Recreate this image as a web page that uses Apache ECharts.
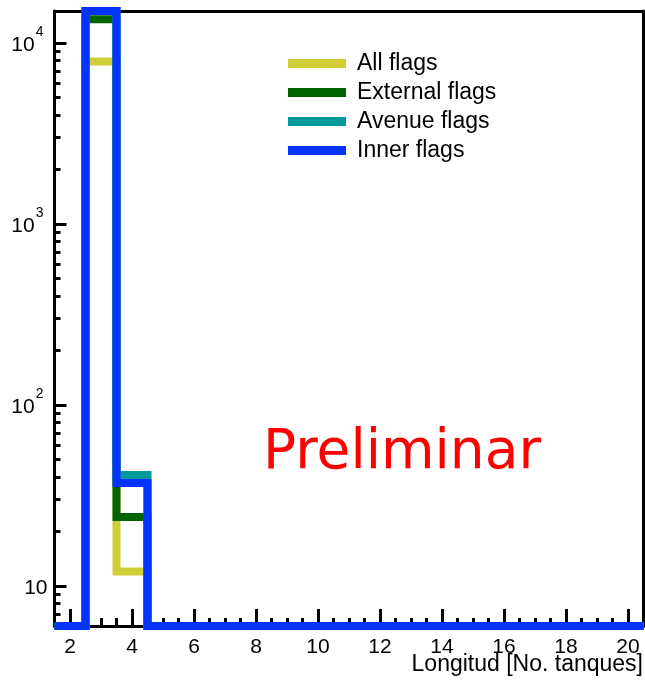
<!DOCTYPE html>
<html>
<head>
<meta charset="utf-8">
<script src="https://cdn.jsdelivr.net/npm/echarts@6/dist/echarts.min.js"></script>
<style>
html,body{margin:0;padding:0;background:#fff;}
#chart{width:645px;height:681px;}
</style>
</head>
<body>
<div id="chart"></div>
<script>
// ---- data ----
const BIN_CENTERS = [2,3,4,5,6,7,8,9,10,11,12,13,14,15,16,17,18,19,20];
const ALL_FLAGS      = [0, 7900, 12, 0,0,0,0,0,0,0,0,0,0,0,0,0,0,0,0];
const EXTERNAL_FLAGS = [0, 13500, 24, 0,0,0,0,0,0,0,0,0,0,0,0,0,0,0,0];
const AVENUE_FLAGS   = [0, 16000, 41, 0,0,0,0,0,0,0,0,0,0,0,0,0,0,0,0];
const INNER_FLAGS    = [0, 17000, 37, 0,0,0,0,0,0,0,0,0,0,0,0,0,0,0,0];
const SERIES_NAMES = ['All flags','External flags','Avenue flags','Inner flags'];
const X_TICKS = [2,4,6,8,10,12,14,16,18,20];
const Y_TICKS = [10,100,1000,10000];
const X_RANGE = [1.5, 20.5];
const Y_RANGE = [6, 15000];

const COLORS = ['#cfcd38','#006400','#009a9a','#0433ff'];
const FONT = '"Liberation Sans", Arial, Helvetica, sans-serif';

// histogram outline points (bin edges), values clamped to the frame
function histPoints(vals){
  const clamp = v => Math.min(Math.max(v, Y_RANGE[0]), Y_RANGE[1]);
  const pts = BIN_CENTERS.map((c,i)=>[c-0.5, clamp(vals[i] > 0 ? vals[i] : Y_RANGE[0])]);
  const last = BIN_CENTERS.length-1;
  pts.push([BIN_CENTERS[last]+0.5, clamp(vals[last] > 0 ? vals[last] : Y_RANGE[0])]);
  return pts;
}

const xMinor = [];
for (let v = X_RANGE[0]; v <= X_RANGE[1]+1e-9; v += 0.5) {
  if (X_TICKS.indexOf(v) < 0 && v > X_RANGE[0] && v < X_RANGE[1]) xMinor.push(v);
}
const yMinorLog = [];
for (let e = 0; e <= 4; e++) {
  for (let k = 2; k <= 9; k++) {
    const v = k*Math.pow(10,e);
    if (v > Y_RANGE[0] && v < Y_RANGE[1]) yMinorLog.push(Math.log10(v));
  }
}
const yMajorLog = Y_TICKS.map(v => Math.log10(v));
const lmin = Math.log10(Y_RANGE[0]), lmax = Math.log10(Y_RANGE[1]);

const chart = echarts.init(document.getElementById('chart'), null, {renderer:'canvas'});
const seriesData = [ALL_FLAGS, EXTERNAL_FLAGS, AVENUE_FLAGS, INNER_FLAGS];

const blackLine = {show:true, lineStyle:{color:'#000', width:3}};

chart.setOption({
  animation:false,
  backgroundColor:'#fff',
  textStyle:{fontFamily:FONT},
  grid:{left:54.5, right:1.5, top:11, bottom:55, containLabel:false, outerBoundsMode:'none'},
  legend:{
    orient:'vertical', left:288, top:45, padding:0, itemGap:-8,
    icon:'rect', itemWidth:58, itemHeight:9,
    textStyle:{fontSize:23, color:'#000', fontFamily:FONT, lineHeight:23, padding:[0,0,14,6]},
    data:SERIES_NAMES
  },
  xAxis:[
    {type:'value', min:X_RANGE[0], max:X_RANGE[1], position:'bottom',
     axisLine:blackLine, splitLine:{show:false},
     axisTick:{show:true, inside:true, length:17, customValues:X_TICKS, lineStyle:{color:'#000', width:3}},
     axisLabel:{show:true, customValues:X_TICKS, margin:11, fontSize:21, color:'#000', fontFamily:FONT}},
    {type:'value', min:X_RANGE[0], max:X_RANGE[1], position:'bottom',
     axisLine:{show:false}, splitLine:{show:false}, axisLabel:{show:false},
     axisTick:{show:true, inside:true, length:8, customValues:xMinor, lineStyle:{color:'#000', width:3}}},
    {type:'value', min:X_RANGE[0], max:X_RANGE[1], position:'top',
     axisLine:blackLine, splitLine:{show:false}, axisLabel:{show:false}, axisTick:{show:false}}
  ],
  yAxis:[
    {type:'log', logBase:10, min:Y_RANGE[0], max:Y_RANGE[1], position:'left',
     axisLine:blackLine, splitLine:{show:false}, axisLabel:{show:false}, axisTick:{show:false}, minorTick:{show:false}},
    {type:'value', min:lmin, max:lmax, position:'left',
     axisLine:{show:false}, splitLine:{show:false},
     axisTick:{show:true, inside:true, length:12, customValues:yMajorLog, lineStyle:{color:'#000', width:3}},
     axisLabel:{show:true, customValues:yMajorLog, margin:7, color:'#000', fontFamily:FONT,
       formatter:function(v){
         const e = Math.round(v);
         return e === 1 ? '{c|10}' : '{b|10}{s|' + e + '}';
       },
       rich:{
         b:{fontSize:21, lineHeight:21, fontFamily:FONT, color:'#000', padding:[4,0,0,0]},
         s:{fontSize:14, lineHeight:14, fontFamily:FONT, color:'#000', padding:[0,4,21,1]},
         c:{fontSize:21, lineHeight:21, fontFamily:FONT, color:'#000', padding:[4,0,0,0]}
       }}},
    {type:'value', min:lmin, max:lmax, position:'left',
     axisLine:{show:false}, splitLine:{show:false}, axisLabel:{show:false},
     axisTick:{show:true, inside:true, length:6, customValues:yMinorLog, lineStyle:{color:'#000', width:3}}},
    {type:'value', min:lmin, max:lmax, position:'right',
     axisLine:blackLine, splitLine:{show:false}, axisLabel:{show:false}, axisTick:{show:false}}
  ],
  series: SERIES_NAMES.map((name,i)=>({
    name:name, type:'line', step:'end', xAxisIndex:0, yAxisIndex:0,
    data:histPoints(seriesData[i]), showSymbol:false, symbol:'none', clip:false,
    color:COLORS[i], itemStyle:{color:COLORS[i]},
    lineStyle:{color:COLORS[i], width:8, join:'miter', cap:'butt'},
    emphasis:{disabled:true}, z:2+i
  })),
  graphic:[
    {type:'text', right:2, top:653, z:10,
     style:{text:'Longitud [No. tanques]', fontSize:23, lineHeight:23, fontFamily:FONT, fill:'#000'}},
    {type:'text', left:263, top:426, z:10,
     style:{text:'Preliminar', fontSize:55, lineHeight:55, fontFamily:'"DejaVu Sans", sans-serif', fill:'#ff0000'}}
  ]
});
</script>
</body>
</html>
